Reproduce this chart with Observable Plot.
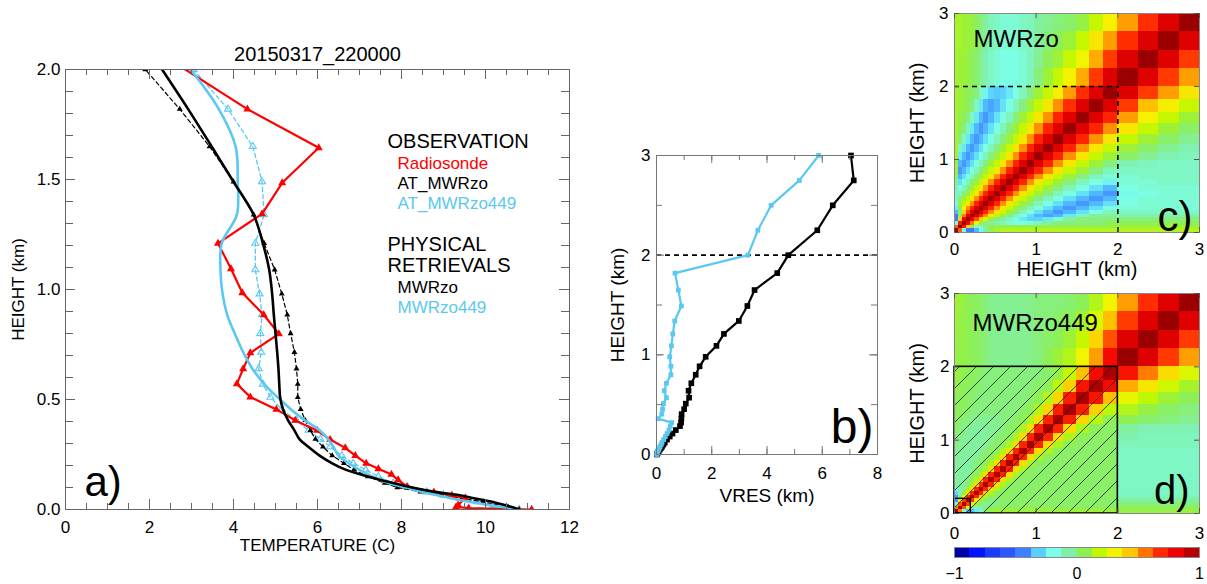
<!DOCTYPE html>
<html>
<head>
<meta charset="utf-8">
<script src="https://cdn.jsdelivr.net/npm/d3@7"></script>
<script src="https://cdn.jsdelivr.net/npm/@observablehq/plot@0.6"></script>
<style>
  html, body { margin: 0; padding: 0; background: #fff; }
  #wrap { position: relative; width: 1207px; height: 584px; overflow: hidden; background: #fff; }
  #wrap svg { position: absolute; left: 0; top: 0; }
</style>
</head>
<body>
<svg width="0" height="0" style="position:absolute;left:0;top:0">
  <defs>
    <pattern id="hatch" patternUnits="userSpaceOnUse" width="17" height="17">
      <path d="M0,17 L17,0 M-3,3 L3,-3 M14,20 L20,14" stroke="#1a1a1a" stroke-width="0.8" fill="none"/>
    </pattern>
  </defs>
</svg>
<div id="wrap"></div>
<script>
// ---------------- DATA ----------------
const titleA = "20150317_220000";
// retrieval levels (km)
const levelsKm = [0, 0.01, 0.02, 0.035, 0.05, 0.065, 0.08, 0.1, 0.12, 0.15, 0.18, 0.21, 0.245, 0.285, 0.32, 0.36, 0.405, 0.455, 0.51, 0.57, 0.64, 0.715, 0.8, 0.885, 0.98, 1.09, 1.21, 1.34, 1.49, 1.65, 1.82, 2.0, 2.25, 2.5, 2.75, 3.0];
// panel a: temperatures (C) at levelsKm[0..31]
const atMWRzo    = [10.8, 10.55, 10.25, 9.95, 9.45, 8.95, 8.45, 7.9, 7.6, 7.2, 6.87, 6.63, 6.35, 6.13, 5.95, 5.83, 5.71, 5.6, 5.53, 5.53, 5.5, 5.45, 5.36, 5.28, 5.15, 4.98, 4.73, 4.48, 4.0, 3.43, 2.72, 1.9];
const atMWRzo449 = [10.8, 10.5, 10.2, 9.8, 9.4, 9.0, 8.6, 8.15, 7.8, 7.45, 7.15, 6.85, 6.58, 6.3, 6.07, 5.79, 5.5, 5.15, 4.88, 4.7, 4.6, 4.66, 4.64, 4.68, 4.62, 4.52, 4.52, 4.73, 4.68, 4.46, 3.87, 3.05];
const physMWRzo    = [10.8, 10.65, 10.45, 10.15, 9.75, 9.38, 8.8, 8.25, 7.8, 7.2, 6.68, 6.35, 6.05, 5.78, 5.57, 5.45, 5.3, 5.18, 5.11, 5.09, 5.07, 5.04, 5.0, 4.96, 4.92, 4.85, 4.7, 4.48, 4.0, 3.48, 2.92, 2.3];
const physMWRzo449 = [10.78, 10.45, 10.1, 9.6, 9.2, 8.85, 8.5, 8.1, 7.7, 7.3, 7.0, 6.75, 6.5, 6.38, 6.25, 6.05, 5.7, 5.37, 5.05, 4.73, 4.45, 4.23, 4.03, 3.85, 3.74, 3.69, 3.72, 4.08, 4.1, 4.05, 3.65, 2.98];
// radiosonde
const sondeKm = [2.06, 1.82, 1.644, 1.485, 1.344, 1.21, 1.094, 0.985, 0.885, 0.798, 0.712, 0.639, 0.571, 0.511, 0.455, 0.405, 0.359, 0.318, 0.28, 0.245, 0.21, 0.185, 0.159, 0.135, 0.104, 0.079, 0.064, 0.053, 0.02, 0.012, 0.006, 0.0];
const sondeT  = [2.36, 4.33, 6.03, 5.16, 4.68, 3.63, 3.94, 4.21, 4.72, 5.08, 4.40, 4.23, 4.08, 4.40, 5.02, 5.47, 5.99, 6.30, 6.66, 6.90, 7.16, 7.45, 7.76, 7.92, 8.13, 8.77, 9.2, 9.52, 9.35, 9.3, 9.6, 11.1];
// panel b: vertical resolution (km) at levelsKm
const vresMWRzo    = [0.01, 0.03, 0.05, 0.08, 0.12, 0.16, 0.2, 0.25, 0.3, 0.38, 0.48, 0.58, 0.70, 0.85, 0.89, 0.90, 0.91, 1.0, 1.06, 1.18, 1.16, 1.26, 1.42, 1.56, 1.78, 2.17, 2.44, 2.98, 3.29, 3.55, 4.37, 4.77, 5.82, 6.38, 7.14, 7.04];
const vresMWRzo449 = [0.01, 0.02, 0.03, 0.05, 0.08, 0.1, 0.13, 0.17, 0.2, 0.26, 0.32, 0.38, 0.45, 0.5, 0.55, 0.06, 0.19, 0.22, 0.25, 0.36, 0.28, 0.36, 0.52, 0.52, 0.48, 0.54, 0.59, 0.66, 0.90, 0.79, 0.67, 3.31, 3.67, 4.15, 5.17, 5.87];
const refKm = 2;
// legend
const legendObs = ["Radiosonde", "AT_MWRzo", "AT_MWRzo449"];
const legendPhys = ["MWRzo", "MWRzo449"];
// tick labels
const tempTicks = [0, 2, 4, 6, 8, 10, 12];
const heightTicksA = [0, 0.5, 1, 1.5, 2];
const vresTicks = [0, 2, 4, 6, 8];
const kmTicks = [0, 1, 2, 3];
const cbTicks = [-1, 0, 1];
// heat-map cell boundaries (km) and kernels (x100), rows bottom -> top
const gridKm = [0, 0.05, 0.1, 0.15, 0.2, 0.25, 0.3, 0.36, 0.42, 0.49, 0.56, 0.64, 0.72, 0.8, 0.89, 0.98, 1.09, 1.21, 1.34, 1.49, 1.65, 1.82, 2.0, 2.25, 2.5, 2.75, 3.0];
const kernelMWRzo = [
 [97, 60, -20, -45, -45, -35, -20, -5, 8, 12, 15, 15, 15, 15, 15, 15, 15, 15, 15, 15, 15, 15, 15, 15, 15, 15],
 [60, 97, 75, 40, 5, -15, -15, -5, 5, 8, 8, 8, 8, 8, 8, 8, 8, 8, 8, 8, 8, 8, 10, 10, 10, 10],
 [-20, 75, 97, 80, 55, 30, 10, 0, -5, -8, -10, -15, -18, -18, -15, -10, -5, 0, 0, 0, 0, 5, 5, 5, 5, 5],
 [-45, 40, 80, 97, 82, 62, 42, 25, 10, 0, -5, -10, -18, -25, -30, -30, -25, -15, -5, 0, 0, 0, 0, 0, 0, 0],
 [-45, 5, 55, 82, 97, 85, 70, 52, 35, 20, 10, 0, -10, -18, -27, -35, -38, -35, -25, -12, -5, -5, -8, -8, -8, -8],
 [-35, 0, 40, 65, 85, 97, 85, 70, 52, 35, 20, 10, 0, -10, -18, -27, -35, -40, -35, -27, -18, -10, -12, -12, -12, -12],
 [-25, 5, 30, 52, 70, 85, 97, 85, 70, 52, 35, 20, 10, 0, -10, -18, -27, -35, -40, -35, -27, -18, -15, -15, -15, -15],
 [-15, 10, 20, 35, 52, 70, 85, 97, 85, 70, 52, 35, 20, 10, 0, -10, -18, -27, -35, -40, -35, -27, -18, -15, -15, -15],
 [-12, 0, 10, 20, 35, 52, 70, 85, 97, 85, 70, 52, 35, 20, 10, 0, -10, -18, -27, -35, -40, -35, -18, -15, -15, -15],
 [-10, -10, 0, 10, 20, 35, 52, 70, 85, 97, 85, 70, 52, 35, 20, 10, 0, -10, -18, -27, -35, -40, -20, -18, -15, -15],
 [-8, -18, -10, 0, 10, 20, 35, 52, 70, 85, 97, 85, 70, 52, 35, 20, 10, 0, -10, -18, -27, -35, -18, -15, -15, -15],
 [-5, -27, -18, -10, 0, 10, 20, 35, 52, 70, 85, 97, 85, 70, 52, 35, 20, 10, 0, -10, -18, -22, -15, -15, -12, -12],
 [2, -35, -27, -18, -10, 0, 10, 20, 35, 52, 70, 85, 97, 85, 70, 52, 35, 20, 10, 0, -10, -15, -15, -12, -12, -12],
 [8, -40, -35, -27, -18, -10, 0, 10, 20, 35, 52, 70, 85, 97, 85, 70, 52, 35, 20, 10, 0, -10, -12, -12, -12, -12],
 [10, -35, -40, -35, -27, -18, -10, 0, 10, 20, 35, 52, 70, 85, 97, 85, 70, 52, 35, 20, 10, 0, -8, -10, -12, -12],
 [12, -25, -35, -40, -35, -27, -18, -10, 0, 10, 20, 35, 52, 70, 85, 97, 85, 70, 52, 35, 20, 10, 3, -3, -8, -10],
 [12, -12, -25, -35, -40, -35, -27, -18, -10, 0, 10, 20, 35, 52, 70, 85, 97, 85, 70, 52, 35, 20, 10, 3, -3, -8],
 [12, 0, -12, -25, -35, -40, -35, -27, -18, -10, 0, 10, 20, 35, 52, 70, 85, 97, 85, 70, 52, 35, 20, 10, 3, -3],
 [12, 5, 0, -12, -25, -35, -40, -35, -27, -18, -10, 0, 10, 20, 35, 52, 70, 85, 97, 85, 70, 52, 35, 20, 10, 3],
 [12, 8, 5, 0, -12, -25, -35, -40, -35, -27, -18, -10, 0, 10, 20, 35, 52, 70, 85, 97, 85, 70, 50, 32, 20, 10],
 [12, 10, 8, 5, 0, -12, -25, -35, -38, -35, -27, -18, -10, 0, 10, 20, 35, 52, 68, 85, 97, 85, 66, 45, 33, 20],
 [12, 10, 8, 5, 3, 0, -12, -22, -30, -32, -30, -25, -18, -10, 0, 10, 20, 33, 50, 68, 85, 97, 85, 66, 50, 35],
 [12, 10, 10, 8, 5, 2, -3, -8, -12, -15, -18, -18, -18, -15, -10, 0, 10, 20, 32, 48, 66, 85, 97, 85, 66, 50],
 [12, 10, 10, 8, 5, 2, -3, -8, -12, -15, -18, -18, -18, -15, -10, -3, 5, 10, 20, 30, 48, 66, 85, 97, 85, 66],
 [12, 12, 10, 10, 8, 5, 0, -5, -10, -12, -15, -15, -15, -12, -10, -5, 0, 5, 10, 20, 35, 50, 68, 85, 97, 85],
 [12, 12, 10, 10, 8, 5, 0, -5, -10, -12, -15, -15, -15, -12, -10, -5, -3, 0, 2, 8, 20, 32, 50, 68, 85, 97]
];
const kernelMWRzo449 = [
 [95, 55, -15, -35, -35, -25, -10, 0, 8, 10, 10, 10, 10, 10, 10, 10, 10, 10, 10, 10, 10, 10, 8, 8, 8, 8],
 [55, 95, 62, 25, 0, -10, -8, 0, 4, 5, 5, 5, 5, 5, 5, 5, 5, 5, 5, 5, 5, 5, 5, 5, 5, 5],
 [-15, 62, 95, 65, 32, 10, 0, -3, -3, 0, 3, 3, 3, 3, 3, 3, 3, 3, 3, 3, 3, 3, 0, 0, 0, 0],
 [-40, 25, 65, 95, 68, 35, 12, 3, 0, 0, 3, 3, 3, 3, 3, 3, 3, 3, 3, 3, 3, 3, -5, -5, -5, -5],
 [-40, 0, 32, 68, 95, 70, 38, 14, 5, 3, 3, 3, 3, 3, 3, 3, 3, 3, 3, 3, 3, 3, -10, -10, -10, -10],
 [-30, -10, 10, 35, 70, 95, 70, 38, 14, 5, 3, 3, 3, 3, 3, 3, 3, 3, 3, 3, 3, 3, -12, -12, -12, -12],
 [-15, -8, 0, 12, 38, 70, 95, 70, 38, 14, 5, 3, 3, 3, 3, 3, 3, 3, 3, 3, 3, 3, -12, -12, -12, -12],
 [-5, -5, -3, 3, 14, 38, 70, 95, 70, 38, 14, 5, 3, 3, 3, 3, 3, 3, 3, 3, 3, 3, -12, -12, -12, -12],
 [-5, -5, -5, 0, 5, 14, 38, 70, 95, 70, 38, 14, 5, 3, 3, 3, 3, 3, 3, 3, 3, 3, -12, -12, -12, -12],
 [-5, -5, -5, -5, 3, 5, 14, 38, 70, 95, 70, 38, 14, 5, 3, 3, 3, 3, 3, 3, 3, 3, -12, -12, -12, -12],
 [-5, -5, -5, -5, -3, 3, 5, 14, 38, 70, 95, 70, 38, 14, 5, 3, 3, 3, 3, 3, 3, 3, -12, -12, -12, -12],
 [-5, -5, -5, -5, -5, 0, 3, 5, 14, 38, 70, 95, 70, 38, 14, 5, 3, 3, 3, 3, 3, 3, -12, -12, -12, -12],
 [-3, -5, -5, -5, -5, -3, 0, 3, 5, 14, 38, 70, 95, 70, 38, 14, 5, 3, 3, 3, 3, 3, -12, -12, -12, -12],
 [-3, -5, -5, -5, -5, -5, -3, 0, 3, 5, 14, 38, 70, 95, 70, 38, 14, 5, 3, 3, 3, 3, -12, -12, -12, -12],
 [0, -3, -5, -5, -5, -5, -5, -3, 0, 3, 5, 14, 38, 70, 95, 70, 38, 14, 5, 3, 3, 3, -10, -10, -10, -10],
 [0, -3, -3, -5, -5, -5, -5, -5, -3, 0, 3, 5, 14, 38, 70, 95, 70, 38, 14, 5, 3, 3, -8, -10, -10, -10],
 [3, 0, -3, -3, -5, -5, -5, -5, -3, -3, 0, 3, 5, 14, 38, 70, 95, 70, 38, 14, 5, 3, -5, -8, -8, -8],
 [5, 3, 0, 0, -3, -3, -3, -3, -3, -3, 0, 0, 3, 5, 14, 38, 70, 95, 72, 40, 16, 6, 6, 2, 0, -3],
 [5, 5, 3, 3, 0, 0, 0, 0, 0, 0, 0, 0, 0, 3, 5, 16, 40, 72, 95, 72, 42, 18, 15, 8, 3, 0],
 [5, 5, 5, 3, 3, 0, 0, 0, 0, 0, 0, 0, 0, 0, 3, 6, 16, 40, 72, 95, 75, 45, 28, 18, 10, 5],
 [8, 5, 5, 5, 3, 3, 0, 0, 0, 0, 0, 0, 0, 0, 0, 3, 6, 18, 42, 75, 95, 78, 48, 35, 22, 12],
 [8, 8, 5, 5, 5, 3, 3, 0, 0, 0, 0, 0, 0, 0, 0, 0, 3, 8, 20, 45, 78, 95, 75, 55, 38, 25],
 [8, 8, 8, 6, 5, 4, 3, 0, -2, -3, -3, -3, -3, -3, -2, 0, 5, 10, 15, 30, 50, 78, 97, 85, 66, 50],
 [8, 8, 8, 6, 5, 4, 3, 0, -2, -3, -3, -3, -3, -3, -2, 0, 3, 5, 10, 20, 40, 62, 85, 97, 85, 66],
 [10, 8, 8, 6, 5, 4, 3, 0, -2, -3, -3, -3, -3, -3, -2, 0, 0, 3, 5, 12, 25, 45, 66, 85, 97, 85],
 [10, 10, 8, 6, 5, 4, 3, 0, -2, -3, -3, -3, -3, -3, -2, 0, 0, 0, 2, 5, 15, 30, 50, 68, 85, 97]
];
const hatchBoxKm = [0, 2];
const smallBoxKm = [0, 0.2];
// colour table
const colorStops = [-1, -0.9375, -0.8125, -0.6875, -0.5625, -0.4375, -0.3125, -0.1875, -0.0625, 0.0625, 0.1875, 0.3125, 0.4375, 0.5625, 0.6875, 0.8125, 0.9375, 1];
const colorHexes = ["#00007a", "#0000a8", "#0014ff", "#1a3cff", "#2a58ff", "#3e80ff", "#58d0ff", "#7cffe8", "#80f0a8", "#8ef050", "#c0f800", "#f4f400", "#ffc800", "#ff7400", "#ff2800", "#f00000", "#b80000", "#800000"];
const cbEdges = [-1, -0.875, -0.75, -0.625, -0.5, -0.375, -0.25, -0.125, 0, 0.125, 0.25, 0.375, 0.5, 0.625, 0.75, 0.875, 1];

// ---------------- LAYOUT ----------------
const W = 1207, H = 584;
const FONT = "'Liberation Sans', Arial, Helvetica, sans-serif";
const BLUE = "#5ac8f0";
const wrap = document.getElementById("wrap");
const A = {l: 65, r: 569, t: 69, b: 509};
const B = {l: 656, r: 877, t: 155, b: 454};
const C = {l: 954, r: 1199, t: 13, b: 232};
const D = {l: 954, r: 1199, t: 293, b: 513};
const CB = {l: 954, r: 1199, t: 547, b: 557};
const intFmt = d3.format("d");
const margins = f => ({marginLeft: f.l, marginRight: W - f.r, marginTop: f.t, marginBottom: H - f.b});
function layer(opts) {
  const svg = Plot.plot({width: W, height: H, style: {background: "transparent", fontFamily: FONT, fontSize: "17px", overflow: "visible", color: "black"}, ...opts});
  wrap.appendChild(svg);
}
function boxTicks(f, xs, ys, lx, ly, stroke) {
  const fw = f.r - f.l, fh = f.b - f.t;
  return [
    Plot.tickX(xs, {x: d => d, insetTop: fh - lx, stroke, strokeWidth: 1}),
    Plot.tickX(xs, {x: d => d, insetBottom: fh - lx, stroke, strokeWidth: 1}),
    Plot.tickY(ys, {y: d => d, insetRight: fw - ly, stroke, strokeWidth: 1}),
    Plot.tickY(ys, {y: d => d, insetLeft: fw - ly, stroke, strokeWidth: 1})
  ];
}
// text at absolute pixel position (baseline)
const txt = (s, f, x, y, o = {}) => Plot.text([s], {frameAnchor: "top-left", dx: x - f.l, dy: y - f.t, lineAnchor: "bottom", textAnchor: "start", fill: "black", ...o});
const ylab = (s, f, x, size) => Plot.text([s], {frameAnchor: "left", dx: x - f.l, rotate: -90, textAnchor: "middle", lineAnchor: "middle", fontSize: size, fill: "black"});
const xlab = (s, f, baseline, size) => Plot.text([s], {frameAnchor: "bottom", dy: baseline - f.b, textAnchor: "middle", lineAnchor: "bottom", fontSize: size, fill: "black"});
const colorOpts = {type: "linear", domain: colorStops, range: colorHexes, interpolate: "rgb", clamp: true};

// ---------------- PANEL A ----------------
const lvA = levelsKm.slice(0, atMWRzo.length);
const tbl = arr => arr.map((t, i) => ({T: t, h: lvA[i]}));
const dAt = tbl(atMWRzo), dAt449 = tbl(atMWRzo449), dPh = tbl(physMWRzo), dPh449 = tbl(physMWRzo449);
const dSonde = sondeT.map((t, i) => ({T: t, h: sondeKm[i]}));
layer({
  ...margins(A),
  x: {domain: [0, 12], label: null},
  y: {domain: [0, 2], label: null},
  marks: [
    Plot.line(dAt449, {x: "T", y: "h", stroke: BLUE, strokeWidth: 1.3, strokeDasharray: "4,3", clip: true}),
    Plot.dot(dAt449, {x: "T", y: "h", symbol: "triangle", r: 2.6, stroke: BLUE, fill: "none", strokeWidth: 1.1, clip: true}),
    Plot.line(dAt, {x: "T", y: "h", stroke: "black", strokeWidth: 1.2, strokeDasharray: "4,3", clip: true}),
    Plot.dot(dAt, {x: "T", y: "h", symbol: "triangle", r: 2.2, fill: "black", stroke: "none", clip: true}),
    Plot.line(dSonde, {x: "T", y: "h", stroke: "#ff0000", strokeWidth: 2.2, clip: true}),
    Plot.dot(dSonde, {x: "T", y: "h", symbol: "triangle", r: 3, fill: "#ff0000", stroke: "none", clip: true}),
    Plot.line(dPh449, {x: "T", y: "h", stroke: BLUE, strokeWidth: 2.6, curve: "catmull-rom", clip: true}),
    Plot.line(dPh, {x: "T", y: "h", stroke: "black", strokeWidth: 2.6, curve: "catmull-rom", clip: true}),
    Plot.frame({stroke: "#666"}),
    ...boxTicks(A, d3.range(0, 12.01, 0.5), d3.range(0, 2.001, 0.1), 6, 8, "#666"),
    ...boxTicks(A, tempTicks, heightTicksA, 10, 10, "#666"),
    Plot.axisX(tempTicks, {tickSize: 0, tickPadding: 11, fontSize: 17, tickFormat: intFmt, label: null}),
    Plot.axisY(heightTicksA, {tickSize: 0, tickPadding: 5, fontSize: 17, tickFormat: d3.format(".1f"), label: null}),
    Plot.text([titleA], {frameAnchor: "top", dy: -9, lineAnchor: "bottom", fontSize: 20, fill: "black"}),
    xlab("TEMPERATURE (C)", A, 550, 17),
    ylab("HEIGHT (km)", A, 18, 17),
    txt("OBSERVATION", A, 387, 147, {fontSize: 20}),
    txt(legendObs[0], A, 397, 168, {fontSize: 17, fill: "#ff0000"}),
    txt(legendObs[1], A, 397, 188, {fontSize: 17}),
    txt(legendObs[2], A, 397, 208, {fontSize: 17, fill: BLUE}),
    txt("PHYSICAL", A, 387, 250, {fontSize: 20}),
    txt("RETRIEVALS", A, 387, 271, {fontSize: 20}),
    txt(legendPhys[0], A, 397, 292, {fontSize: 17}),
    txt(legendPhys[1], A, 397, 312, {fontSize: 17, fill: BLUE}),
    txt("a)", A, 84, 495, {fontSize: 42})
  ]
});

// ---------------- PANEL B ----------------
const dB = levelsKm.map((h, i) => ({h, zo: vresMWRzo[i], zo449: vresMWRzo449[i]}));
layer({
  ...margins(B),
  x: {domain: [0, 8], label: null},
  y: {domain: [0, 3], label: null},
  marks: [
    Plot.ruleY([refKm], {stroke: "black", strokeWidth: 1.6, strokeDasharray: "5,4"}),
    Plot.line(dB, {x: "zo", y: "h", stroke: "black", strokeWidth: 2.2}),
    Plot.dot(dB, {x: "zo", y: "h", symbol: "square", r: 3.2, fill: "black", stroke: "none"}),
    Plot.line(dB, {x: "zo449", y: "h", stroke: BLUE, strokeWidth: 2.2}),
    Plot.dot(dB, {x: "zo449", y: "h", symbol: "square", r: 2.7, fill: BLUE, stroke: "none"}),
    Plot.frame({stroke: "#777"}),
    ...boxTicks(B, d3.range(0, 8.01, 1), d3.range(0, 3.01, 0.5), 5, 6, "#777"),
    ...boxTicks(B, vresTicks, kmTicks, 8, 8, "#777"),
    Plot.axisX(vresTicks, {tickSize: 0, tickPadding: 12, fontSize: 17, tickFormat: intFmt, label: null}),
    Plot.axisY(kmTicks, {tickSize: 0, tickPadding: 6, fontSize: 17, tickFormat: intFmt, label: null}),
    xlab("VRES (km)", B, 501, 19),
    ylab("HEIGHT (km)", B, 617, 19),
    txt("b)", B, 873, 442, {fontSize: 48, textAnchor: "end"})
  ]
});

// ---------------- PANELS C & D ----------------
const cells = m => m.flatMap((row, i) => row.map((v, j) => ({x1: gridKm[j], x2: gridKm[j + 1], y1: gridKm[i], y2: gridKm[i + 1], v: v / 100})));
layer({
  ...margins(C),
  x: {domain: [0, 3], label: null},
  y: {domain: [0, 3], label: null},
  color: colorOpts,
  marks: [
    Plot.rect(cells(kernelMWRzo), {x1: "x1", x2: "x2", y1: "y1", y2: "y2", fill: "v", shapeRendering: "crispEdges"}),
    Plot.ruleY([refKm], {x1: 0, x2: refKm, stroke: "black", strokeWidth: 1.6, strokeDasharray: "5,4"}),
    Plot.ruleX([refKm], {y1: 0, y2: refKm, stroke: "black", strokeWidth: 1.6, strokeDasharray: "5,4"}),
    Plot.frame({stroke: "#888"}),
    ...boxTicks(C, kmTicks, kmTicks, 5, 5, "#555"),
    Plot.axisX(kmTicks, {tickSize: 0, tickPadding: 10, fontSize: 17, tickFormat: intFmt, label: null}),
    Plot.axisY(kmTicks, {tickSize: 0, tickPadding: 6, fontSize: 17, tickFormat: intFmt, label: null}),
    xlab("HEIGHT (km)", C, 275, 20),
    ylab("HEIGHT (km)", C, 917, 20),
    txt("MWRzo", C, 973, 46, {fontSize: 24}),
    txt("c)", C, 1192, 230, {fontSize: 42, textAnchor: "end"})
  ]
});
layer({
  ...margins(D),
  x: {domain: [0, 3], label: null},
  y: {domain: [0, 3], label: null},
  color: colorOpts,
  marks: [
    Plot.rect(cells(kernelMWRzo449), {x1: "x1", x2: "x2", y1: "y1", y2: "y2", fill: "v", shapeRendering: "crispEdges"}),
    Plot.rect([hatchBoxKm], {x1: d => d[0], x2: d => d[1], y1: d => d[0], y2: d => d[1], fill: "url(#hatch)", stroke: "black", strokeWidth: 1.6}),
    Plot.rect([smallBoxKm], {x1: d => d[0], x2: d => d[1], y1: d => d[0], y2: d => d[1], fill: "none", stroke: "black", strokeWidth: 1.4}),
    Plot.frame({stroke: "#888"}),
    ...boxTicks(D, kmTicks, kmTicks, 5, 5, "#555"),
    Plot.axisX(kmTicks, {tickSize: 0, tickPadding: 13, fontSize: 17, tickFormat: intFmt, label: null}),
    Plot.axisY(kmTicks, {tickSize: 0, tickPadding: 5, fontSize: 17, tickFormat: intFmt, label: null}),
    ylab("HEIGHT (km)", D, 917, 20),
    txt("MWRzo449", D, 972, 330, {fontSize: 24}),
    txt("d)", D, 1189, 503, {fontSize: 40, textAnchor: "end"})
  ]
});

// ---------------- COLOUR BAR ----------------
const cbBins = cbEdges.slice(0, -1).map((e, i) => ({x1: e, x2: cbEdges[i + 1], v: (e + cbEdges[i + 1]) / 2}));
layer({
  ...margins(CB),
  x: {domain: [-1, 1], label: null},
  color: colorOpts,
  marks: [
    Plot.rect(cbBins, {x1: "x1", x2: "x2", fill: "v", shapeRendering: "crispEdges"}),
    Plot.frame({stroke: "#888"}),
    Plot.axisX(cbTicks, {tickSize: 0, tickPadding: 10, fontSize: 16, tickFormat: intFmt, label: null})
  ]
});
</script>
</body>
</html>
